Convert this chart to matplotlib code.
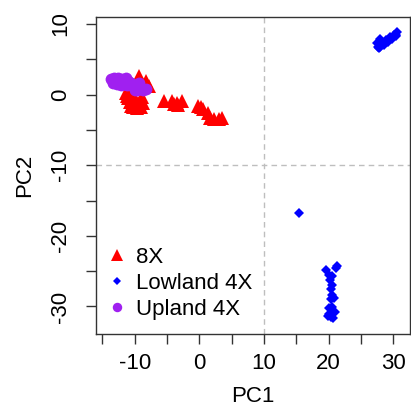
import matplotlib.pyplot as plt
import matplotlib.ticker as mticker

plt.rcParams['font.family'] = ['Liberation Sans', 'DejaVu Sans']
plt.rcParams['axes.unicode_minus'] = False

# 8X samples
x_8x = [-9.3, -8.3, -7.8, -9.5, -10.5, -8.7,
        -11.4, -11.0, -10.8, -10.2, -9.6, -9.0, -8.7, -8.9,
        -10.6, -9.9, -9.2, -10.4, -9.4, -11.2, -10.0,
        -5.5, -4.3, -3.5, -2.7, -3.3, -4.0,
        -0.2, 0.6, 1.4, 1.6, 3.5, 3.0, 2.2, 0.3]
y_8x = [2.6, 2.0, 1.2, 1.5, 1.0, 1.4,
        0.2, -0.5, -1.0, -1.8, -1.9, -1.8, -1.2, -0.4,
        -1.6, -0.6, -0.9, 0.2, -1.3, -0.2, -1.0,
        -0.9, -0.9, -1.2, -0.9, -1.4, -1.3,
        -1.6, -2.1, -2.6, -3.3, -3.3, -3.5, -3.4, -1.8]

# Lowland 4X samples
x_low = [27.6, 27.5, 28.0, 28.3, 28.6, 28.9, 29.2, 29.5, 29.8, 30.1, 30.4, 30.6, 30.5, 28.0, 27.8,
         15.4,
         21.3, 19.6, 20.0, 20.6, 20.2, 20.5, 20.4, 20.6, 20.9, 20.3, 20.1, 20.6,
         21.0, 20.0, 20.3, 20.7, 19.9, 21.1]
y_low = [6.7, 7.3, 6.8, 7.4, 7.0, 7.7, 7.5, 8.1, 7.9, 8.5, 8.3, 8.9, 8.5, 7.9, 6.6,
         -16.7,
         -24.3, -24.9, -25.5, -25.7, -26.3, -26.9, -27.5, -28.4, -28.8, -28.9, -30.2, -30.1,
         -30.8, -31.0, -31.5, -31.7, -31.4, -24.6]

# Upland 4X samples
x_up = [-13.7, -13.2, -12.6, -12.0, -11.4, -11.0, -13.4, -12.8, -12.2, -11.6, -12.5,
        -11.2, -10.6, -10.2, -9.4, -9.6, -8.8, -8.3, -9.2, -10.0]
y_up = [2.2, 2.4, 2.3, 2.2, 2.3, 2.0, 1.7, 1.5, 1.3, 1.5, 1.9,
        1.4, 1.6, 1.2, 1.6, 0.6, 0.6, 0.8, 1.0, 0.7]

fig = plt.figure(figsize=(4.11, 4.11), dpi=100)
ax = fig.add_axes([96 / 411, 1 - 334 / 411, 314 / 411, 317 / 411])

ax.axvline(10, color='#BEBEBE', linestyle=(0, (4, 3)), linewidth=1, zorder=0)
ax.axhline(-10, color='#BEBEBE', linestyle=(0, (4, 3)), linewidth=1, zorder=0)

ax.plot(x_8x, y_8x, linestyle='none', marker='^', markersize=10, color='#FF0000',
        markeredgewidth=0, label='8X')
ax.plot(x_low, y_low, linestyle='none', marker='D', markersize=5.6, color='#0000FF',
        markeredgewidth=0, label='Lowland 4X')
ax.plot(x_up, y_up, linestyle='none', marker='o', markersize=8.5, color='#A020F0',
        markeredgewidth=0, label='Upland 4X')

ax.set_xlim(-16, 32.6)
ax.set_ylim(-33.9, 11)

ax.xaxis.set_major_locator(mticker.MultipleLocator(10))
ax.xaxis.set_minor_locator(mticker.MultipleLocator(5))
ax.yaxis.set_major_locator(mticker.MultipleLocator(10))
ax.yaxis.set_minor_locator(mticker.MultipleLocator(5))
ax.tick_params(which='both', direction='out', length=7, width=1, color='#333333',
               labelsize=16)
ax.tick_params(axis='x', pad=7)
ax.tick_params(axis='y', pad=11)
for lab in ax.get_yticklabels():
    lab.set_rotation(90)
    lab.set_va('center')

for s in ax.spines.values():
    s.set_color('#333333')
    s.set_linewidth(1)

ax.set_xlabel('PC1', fontsize=16, labelpad=8)
ax.set_ylabel('PC2', fontsize=16, labelpad=11)

ax.legend(loc='lower left', bbox_to_anchor=(-0.01, 0.01), frameon=False, fontsize=16,
          handletextpad=0.25, labelspacing=0.22, handlelength=1.2, borderaxespad=0.1,
          markerscale=0.8)

fig.savefig('out.png', dpi=100)
